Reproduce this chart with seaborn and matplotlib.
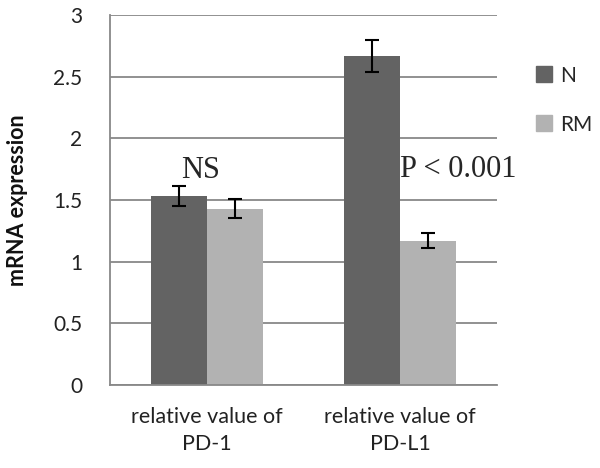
import pandas as pd
import matplotlib.pyplot as plt
import seaborn as sns

genes = ['relative value of\nPD-1', 'relative value of\nPD-L1']
groups = ['N', 'RM']
n_vals = [1.53, 2.67]
rm_vals = [1.43, 1.17]
n_err = [0.08, 0.13]
rm_err = [0.08, 0.06]
annotations = ['NS', 'P < 0.001']

df = pd.DataFrame({
    'gene': genes * 2,
    'group': ['N'] * 2 + ['RM'] * 2,
    'value': n_vals + rm_vals,
    'err': n_err + rm_err,
})

sns.set_style('white')
plt.rcParams['font.family'] = ['Lato', 'DejaVu Sans']

fig = plt.figure(figsize=(6, 4.68), dpi=100)
ax = fig.add_axes([0.1833, 0.1774, 0.645, 0.7906])

sns.barplot(data=df, x='gene', y='value', hue='group', ax=ax,
            palette={'N': '#636363', 'RM': '#b2b2b2'}, width=0.58,
            saturation=1, errorbar=None, legend=False, linewidth=0)

# error bars on top of each bar
for cont, g in zip(ax.containers, groups):
    errs = df[df['group'] == g]['err'].values
    for bar, e in zip(cont, errs):
        cx = bar.get_x() + bar.get_width() / 2
        ax.errorbar(cx, bar.get_height(), yerr=e, fmt='none', ecolor='black',
                    elinewidth=1.5, capsize=5, capthick=1.5)

ax.set_xlim(-0.5, 1.5)
ax.set_ylim(0, 3)
ax.set_yticks([0, 0.5, 1, 1.5, 2, 2.5, 3])
ax.set_yticklabels(['0', '0.5', '1', '1.5', '2', '2.5', '3'])
ax.grid(axis='y', color='#888888', linewidth=1.3)
ax.set_axisbelow(True)
for s in ['top', 'right']:
    ax.spines[s].set_visible(False)
for s in ['left', 'bottom']:
    ax.spines[s].set_color('#888888')
    ax.spines[s].set_linewidth(1.3)
ax.tick_params(axis='y', length=10, color='#888888', width=1.3,
               labelsize=15, labelcolor='#222222', pad=10)
ax.tick_params(axis='x', length=0, labelsize=15.5, labelcolor='#222222', pad=16)
for lab in ax.get_xticklabels():
    lab.set_linespacing(1.45)
ax.set_xlabel('')
ax.set_ylabel('mRNA expression', fontsize=15.5, fontweight='bold',
              labelpad=18, color='#111111')

# significance labels
ax.text(-0.03, 1.68, annotations[0], ha='center', va='baseline',
        family='Liberation Serif', fontsize=22)
ax.text(1.0, 1.69, annotations[1], ha='left', va='baseline',
        family='Liberation Serif', fontsize=22)

handles = [plt.Rectangle((0, 0), 1, 1, color=c) for c in ['#636363', '#b2b2b2']]
fig.legend(handles, groups, loc='upper left', bbox_to_anchor=(0.893, 0.86),
           frameon=False, fontsize=15, handlelength=0.8, handleheight=0.8,
           handletextpad=0.35, labelspacing=1.4, borderpad=0, borderaxespad=0)

fig.savefig('out.png', dpi=100)
